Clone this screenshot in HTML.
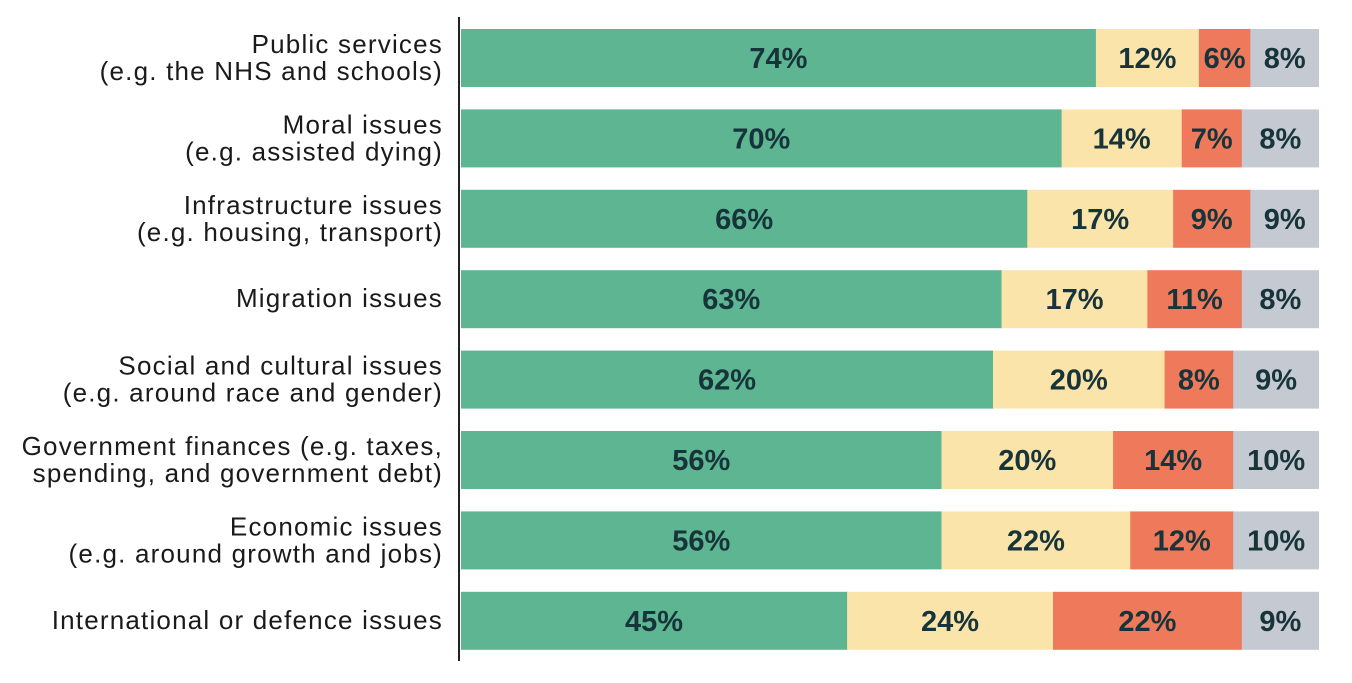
<!DOCTYPE html>
<html><head><meta charset="utf-8"><style>
body{margin:0;background:#fff;width:1352px;height:683px;overflow:hidden}
svg{display:block}
.cat{font-family:"Liberation Sans",sans-serif;font-size:26px;letter-spacing:1.2px;fill:#1a1a1a}
.val{font-family:"Liberation Sans",sans-serif;font-size:29px;font-weight:bold;fill:#17343a}
</style></head><body>
<svg id="chart" width="1352" height="683"></svg>
<script>
const categories=[["Public services","(e.g. the NHS and schools)"],["Moral issues","(e.g. assisted dying)"],["Infrastructure issues","(e.g. housing, transport)"],["Migration issues"],["Social and cultural issues","(e.g. around race and gender)"],["Government finances (e.g. taxes,","spending, and government debt)"],["Economic issues","(e.g. around growth and jobs)"],["International or defence issues"]];
const s1=[74,70,66,63,62,56,56,45];
const s2=[12,14,17,17,20,20,22,24];
const s3=[6,7,9,11,8,14,12,22];
const s4=[8,8,9,8,9,10,10,9];
const colors=["#5db592","#fbe4aa","#ee7a5b","#c5c9d2"];
const NS="http://www.w3.org/2000/svg";
const svg=document.getElementById('chart');
const x0=461,x1=1319;
const xs=v=>v/100*(x1-x0);
const rowY=i=>29+i*80.4, barH=58;
function mk(t,a){const e=document.createElementNS(NS,t);for(const k in a)e.setAttribute(k,a[k]);svg.appendChild(e);return e;}
const series=[s1,s2,s3,s4];
categories.forEach((c,i)=>{
  let acc=0;const y=rowY(i);
  series.forEach((s,j)=>{
    const v=s[i];
    const left=x0+xs(acc);
    const w=(j==3)?(x1-left):xs(v)+0.5;
    const r=mk('rect',{x:left,y:y,width:w,height:barH,fill:colors[j]});
    
    
    const cx=(j==3)?(left+(x1-left)/2):x0+xs(acc+v/2);
    const t=mk('text',{x:cx,y:y+barH/2+10,'text-anchor':'middle',class:'val'});
    t.textContent=v+'%';
    
    
    acc+=v;
  });
  const lt=mk('text',{x:443,'text-anchor':'end',class:'cat'});
  
  
  const cy=y+barH/2;
  c.forEach((line,k)=>{
    const ts=document.createElementNS(NS,'tspan');
    ts.setAttribute('x',443);
    ts.setAttribute('y',c.length==1?cy+8:cy-5+k*27);
    ts.textContent=line;lt.appendChild(ts);
  });
});
const ax=mk('line',{x1:459,y1:17,x2:459,y2:661,stroke:'#222','stroke-width':2});


</script>
</body></html>
